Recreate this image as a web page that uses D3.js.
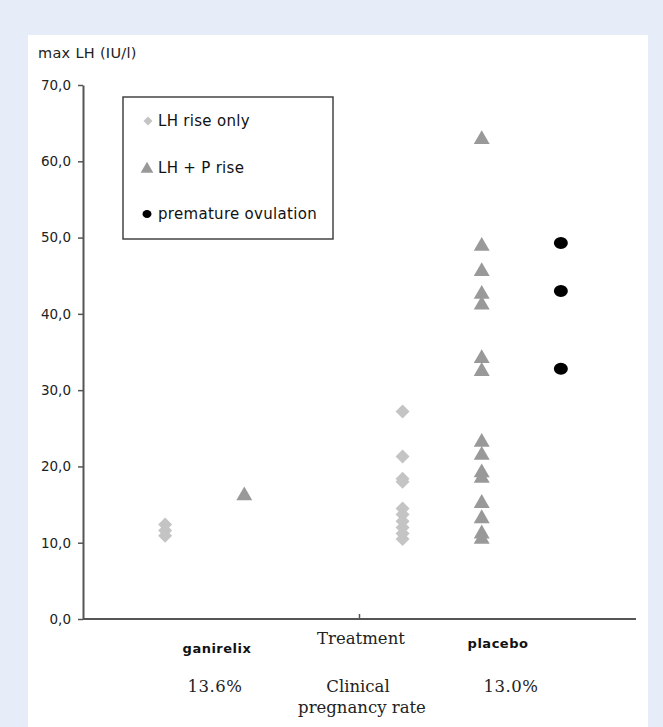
<!DOCTYPE html>
<html>
<head>
<meta charset="utf-8">
<script src="https://cdn.jsdelivr.net/npm/d3@7"></script>
<style>
  body { margin: 0; background: #e6edf8; }
  svg { display: block; }
</style>
</head>
<body>
<div id="chart"></div>
<script>
// columns along the x axis (one empty slot between the two groups)
const columns = ['gan-lh', 'gan-lhp', 'gap', 'pla-lh', 'pla-lhp', 'pla-ov'];

// max LH values (IU/l)
const ganirelixLH = [12.4, 11.6, 10.9];
const ganirelixLHP = [16.3];
const placeboLH = [27.2, 21.3, 18.4, 18.0, 14.5, 13.7, 12.8, 12.0, 11.2, 10.5];
const placeboLHP = [63.0, 49.0, 45.7, 42.7, 41.3, 34.3, 32.6, 23.3, 21.6, 19.3, 18.6, 15.3, 13.3, 11.3, 10.6];
const placeboOvulation = [49.3, 43.0, 32.8];

const legendLabels = ['LH rise only', 'LH + P rise', 'premature ovulation'];
const groupLabels = ['ganirelix', 'placebo'];
const rateLabels = ['13.6%', '13.0%'];

const width = 663, height = 727;
const margin = {top: 85, right: 27, bottom: 108, left: 83};

const svg = d3.select('#chart').append('svg')
  .attr('width', width)
  .attr('height', height);

// white panel
svg.append('rect')
  .attr('x', 28).attr('y', 35)
  .attr('width', 620).attr('height', height - 35)
  .attr('fill', '#fff');

const x = d3.scalePoint()
  .domain(columns)
  .range([margin.left + 3, width - margin.right + 4])
  .padding(1);

const y = d3.scaleLinear()
  .domain([0, 70])
  .range([height - margin.bottom, margin.top]);

const fmt = d3.formatLocale({decimal: ',', thousands: '.', grouping: [3], currency: ['', '']}).format('.1f');

const font = 'DejaVu Sans, Liberation Sans, sans-serif';
const serif = 'DejaVu Serif, Liberation Serif, serif';

// y axis
const yAxis = svg.append('g')
  .attr('transform', `translate(${margin.left},0)`)
  .call(d3.axisLeft(y).tickValues(d3.range(0, 71, 10)).tickFormat(fmt).tickSize(5).tickPadding(7).tickSizeOuter(0));
yAxis.select('.domain').attr('stroke', '#555').attr('stroke-width', 2);
yAxis.selectAll('.tick line').attr('stroke', '#555').attr('stroke-width', 1.5);
yAxis.selectAll('.tick text')
  .attr('fill', '#222')
  .style('font-family', font)
  .style('font-size', '13.5px');

// x axis line and middle tick
const x0 = margin.left, x1 = width - margin.right;
svg.append('line')
  .attr('x1', x0).attr('x2', x1)
  .attr('y1', y(0)).attr('y2', y(0))
  .attr('stroke', '#555').attr('stroke-width', 2);
svg.append('line')
  .attr('x1', (x0 + x1) / 2).attr('x2', (x0 + x1) / 2)
  .attr('y1', y(0)).attr('y2', y(0) - 5)
  .attr('stroke', '#555').attr('stroke-width', 1.5);

svg.append('text')
  .attr('x', 38).attr('y', 58)
  .attr('fill', '#222')
  .style('font-family', font).style('font-size', '14.5px')
  .style('letter-spacing', '0.3px')
  .text('max LH (IU/l)');

// marker shapes
const diamond = d3.symbol().type(d3.symbolSquare).size(98);
const triangle = d3.symbol().type(d3.symbolTriangle).size(110);

function diamonds(vals, col) {
  svg.append('g').selectAll('path')
    .data(vals).join('path')
    .attr('d', diamond)
    .attr('transform', d => `translate(${x(col)},${y(d)}) rotate(45)`)
    .attr('fill', '#c4c4c4');
}
function triangles(vals, col) {
  svg.append('g').selectAll('path')
    .data(vals).join('path')
    .attr('d', triangle)
    .attr('transform', d => `translate(${x(col)},${y(d) + 1})`)
    .attr('fill', '#999');
}
function dots(vals, col) {
  svg.append('g').selectAll('ellipse')
    .data(vals).join('ellipse')
    .attr('cx', x(col)).attr('cy', d => y(d))
    .attr('rx', 7).attr('ry', 6)
    .attr('fill', '#000');
}

diamonds(ganirelixLH, 'gan-lh');
triangles(ganirelixLHP, 'gan-lhp');
diamonds(placeboLH, 'pla-lh');
triangles(placeboLHP, 'pla-lhp');
dots(placeboOvulation, 'pla-ov');

// legend
const legend = svg.append('g');
legend.append('rect')
  .attr('x', 123).attr('y', 97)
  .attr('width', 210).attr('height', 142)
  .attr('fill', '#fff').attr('stroke', '#444').attr('stroke-width', 1.5);

const ly = [121, 168, 214];
legend.append('path')
  .attr('d', d3.symbol().type(d3.symbolSquare).size(40))
  .attr('transform', `translate(148,${ly[0]}) rotate(45)`)
  .attr('fill', '#c4c4c4');
legend.append('path')
  .attr('d', d3.symbol().type(d3.symbolTriangle).size(70))
  .attr('transform', `translate(147,${ly[1] + 1})`)
  .attr('fill', '#999');
legend.append('ellipse')
  .attr('cx', 147).attr('cy', ly[2])
  .attr('rx', 4.5).attr('ry', 4)
  .attr('fill', '#000');

legend.selectAll('text.lab')
  .data(legendLabels).join('text')
  .attr('class', 'lab')
  .attr('x', 158).attr('y', (d, i) => ly[i] + 5)
  .attr('fill', '#111')
  .style('font-family', font).style('font-size', '15px')
  .style('letter-spacing', '0.3px')
  .text(d => d);

// labels under the axis
const groupX = [217, 498];
svg.selectAll('text.grp')
  .data(groupLabels).join('text')
  .attr('class', 'grp')
  .attr('x', (d, i) => groupX[i]).attr('y', (d, i) => i ? 648 : 653)
  .attr('text-anchor', 'middle')
  .attr('fill', '#111')
  .style('font-family', font).style('font-size', '13px').style('font-weight', 'bold')
  .style('letter-spacing', '0.5px')
  .text(d => d);

const serifSize = '16.5px';
svg.append('text')
  .attr('x', 361).attr('y', 644)
  .attr('text-anchor', 'middle').attr('fill', '#222')
  .style('font-family', serif).style('font-size', serifSize)
  .text('Treatment');

const rateX = [215, 511];
svg.selectAll('text.rate')
  .data(rateLabels).join('text')
  .attr('class', 'rate')
  .attr('x', (d, i) => rateX[i]).attr('y', 692)
  .attr('text-anchor', 'middle').attr('fill', '#222')
  .style('font-family', serif).style('font-size', serifSize)
  .style('letter-spacing', '0.5px')
  .text(d => d);

svg.append('text')
  .attr('x', 358).attr('y', 692)
  .attr('text-anchor', 'middle').attr('fill', '#222')
  .style('font-family', serif).style('font-size', serifSize)
  .text('Clinical');
svg.append('text')
  .attr('x', 362).attr('y', 713)
  .attr('text-anchor', 'middle').attr('fill', '#222')
  .style('font-family', serif).style('font-size', serifSize)
  .text('pregnancy rate');
</script>
</body>
</html>
